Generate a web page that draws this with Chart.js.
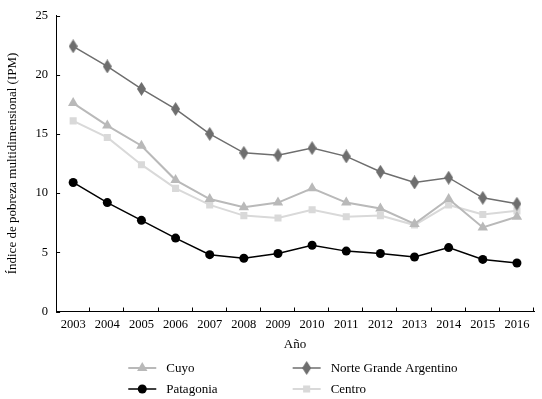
<!DOCTYPE html>
<html>
<head>
<meta charset="utf-8">
<title>Índice de pobreza multidimensional</title>
<style>
  html, body { margin: 0; padding: 0; background: #fff; }
</style>
</head>
<body>
<canvas id="chart" width="542" height="399"></canvas>
<script src="https://cdn.jsdelivr.net/npm/chart.js@4.4.1/dist/chart.umd.min.js"></script>
<script>
let years = ["2003", "2004", "2005", "2006", "2007", "2008", "2009", "2010", "2011", "2012", "2013", "2014", "2015", "2016"]
let cuyo = [17.6, 15.7, 14.0, 11.1, 9.5, 8.8, 9.2, 10.4, 9.2, 8.7, 7.4, 9.5, 7.1, 8.0]
let norteGrande = [22.4, 20.7, 18.8, 17.1, 15.0, 13.4, 13.2, 13.8, 13.1, 11.8, 10.9, 11.3, 9.6, 9.1]
let patagonia = [10.9, 9.2, 7.7, 6.2, 4.8, 4.5, 4.9, 5.6, 5.1, 4.9, 4.6, 5.4, 4.4, 4.1]
let centro = [16.1, 14.7, 12.4, 10.4, 9.0, 8.1, 7.9, 8.6, 8.0, 8.1, 7.3, 9.0, 8.2, 8.5]
let yMin = 0
let yMax = 25
let yStep = 5

const FONT = "'Liberation Serif', 'Times New Roman', serif"

// rombo alargado (el de Chart.js es cuadrado)
function makeDiamond(color) {
  let c = document.createElement("canvas")
  c.width = 9
  c.height = 14
  let g = c.getContext("2d")
  g.fillStyle = color
  g.beginPath()
  g.moveTo(4.5, 0)
  g.lineTo(9, 7)
  g.lineTo(4.5, 14)
  g.lineTo(0, 7)
  g.closePath()
  g.fill()
  return c
}

let diamond = makeDiamond("#6e6e6e")

let series = [
  { label: "Cuyo", data: cuyo, color: "#b9b9b9", style: "triangle", radius: 6, width: 2 },
  { label: "Norte Grande Argentino", data: norteGrande, color: "#6e6e6e", style: diamond, radius: 6, width: 1.5 },
  { label: "Patagonia", data: patagonia, color: "#000000", style: "circle", radius: 4.5, width: 1.5 },
  { label: "Centro", data: centro, color: "#d9d9d9", style: "rect", radius: 5, width: 2 }
]

// marcas hacia adentro en los ejes
const innerTicks = {
  id: "innerTicks",
  afterDraw(chart) {
    let ctx = chart.ctx
    let xs = chart.scales.x
    let ys = chart.scales.y
    ctx.save()
    ctx.strokeStyle = "#000"
    ctx.lineWidth = 1
    ctx.beginPath()
    ys.ticks.forEach(t => {
      let py = Math.round(ys.getPixelForValue(t.value)) + 0.5
      ctx.moveTo(ys.right, py)
      ctx.lineTo(ys.right + 4, py)
    })
    let n = years.length
    let step = (xs.right - xs.left) / n
    for (let i = 1; i <= n; i++) {
      let px = Math.round(xs.left + step * i) - 0.5
      ctx.moveTo(px, xs.top)
      ctx.lineTo(px, xs.top - 4)
    }
    ctx.stroke()
    ctx.restore()
  }
}

// leyenda en dos columnas
const gridLegend = {
  id: "gridLegend",
  afterDraw(chart) {
    let ctx = chart.ctx
    let area = chart.chartArea
    let w = area.right - area.left
    let cols = [area.left + w * 0.151, area.left + w * 0.495]
    let rows = [chart.height - 31, chart.height - 10]
    ctx.save()
    ctx.font = "13px " + FONT
    ctx.textBaseline = "middle"
    series.forEach((s, i) => {
      let x = cols[i % 2]
      let y = rows[Math.floor(i / 2)]
      ctx.strokeStyle = s.color
      ctx.lineWidth = s.width
      ctx.beginPath()
      ctx.moveTo(x, y)
      ctx.lineTo(x + 28, y)
      ctx.stroke()
      ctx.fillStyle = s.color
      Chart.helpers.drawPoint(ctx, { pointStyle: s.style, radius: s.radius, borderWidth: 0, rotation: 0 }, x + 14, y)
      ctx.fillStyle = "#000"
      ctx.fillText(s.label, x + 38, y + 1)
    })
    ctx.restore()
  }
}

new Chart(document.getElementById("chart"), {
  type: "line",
  data: {
    labels: years,
    datasets: series.map(s => ({
      label: s.label,
      data: s.data,
      borderColor: s.color,
      backgroundColor: s.color,
      borderWidth: s.width,
      pointStyle: s.style,
      pointRadius: s.radius,
      pointBorderWidth: 0,
      pointBackgroundColor: s.color,
      tension: 0
    }))
  },
  options: {
    responsive: false,
    animation: false,
    devicePixelRatio: 1,
    layout: { padding: { top: 14, right: 8, bottom: 48, left: 5 } },
    plugins: {
      legend: { display: false },
      tooltip: { enabled: false }
    },
    scales: {
      x: {
        offset: true,
        grid: { display: false, drawTicks: false },
        border: { display: true, color: "#000", width: 1 },
        ticks: { color: "#000", font: { family: FONT, size: 12.5, lineHeight: 1 }, padding: 7, maxRotation: 0, autoSkip: false },
        title: { display: true, text: "Año", color: "#000", font: { family: FONT, size: 13, lineHeight: 1 }, padding: { top: 0, bottom: 0 } }
      },
      y: {
        min: yMin,
        max: yMax,
        grid: { display: false, drawTicks: false },
        border: { display: true, color: "#000", width: 1 },
        ticks: { stepSize: yStep, color: "#000", font: { family: FONT, size: 12.5 }, padding: 8 },
        title: { display: true, text: "Índice de pobreza multidimensional (IPM)", color: "#000", font: { family: FONT, size: 13 }, padding: { top: 0, bottom: 7 } }
      }
    }
  },
  plugins: [innerTicks, gridLegend]
})
</script>
</body>
</html>
